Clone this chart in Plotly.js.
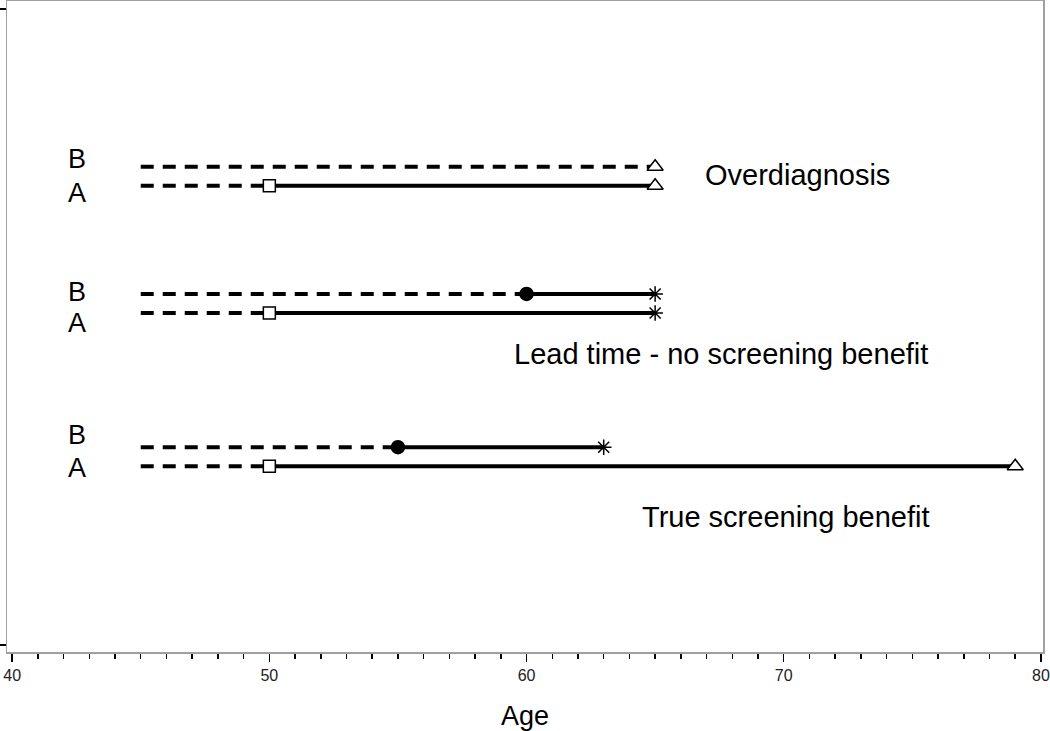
<!DOCTYPE html>
<html>
<head>
<meta charset="utf-8">
<script src="https://cdn.plot.ly/plotly-3.0.1.min.js"></script>
<style>html,body{margin:0;padding:0;background:#fff;}#chart{width:1050px;height:731px;}</style>
</head>
<body>
<div id="chart"></div>
<script>
// Rows (woman B = not screened, woman A = screened)
const rowNames   = ["Overdiagnosis B", "Overdiagnosis A", "Lead time B", "Lead time A", "True benefit B", "True benefit A"];
const rowY       = [7.52, 7.22, 5.52, 5.22, 3.11, 2.81];
const onsetAge   = [45, 45, 45, 45, 45, 45];
const diagAge    = [null, 50, 60, 50, 55, 50];
const endAge     = [65, 65, 65, 65, 63, 79];
const diagSymbol = [null, "square", "circle", "square", "circle", "square"];
const endSymbol  = ["triangle-up", "triangle-up", "asterisk-open", "asterisk-open", "asterisk-open", "triangle-up"];

const rowLabels  = ["B", "A", "B", "A", "B", "A"];
const labelY     = [7.64, 7.11, 5.55, 5.06, 3.30, 2.78];
const scenarioText = ["Overdiagnosis", "Lead time - no screening benefit", "True screening benefit"];
const scenarioX    = [70.55, 67.55, 70.08];
const scenarioY    = [7.39, 4.58, 2.01];

const FONT = "Liberation Sans, Arial, sans-serif";
const traces = [];
for (let i = 0; i < rowNames.length; i++) {
  const dashEnd = diagAge[i] === null ? endAge[i] : diagAge[i];
  traces.push({
    x: [onsetAge[i], dashEnd], y: [rowY[i], rowY[i]],
    mode: "lines", line: {color: "#000", width: 4, dash: "13px,9px"},
    hoverinfo: "skip", showlegend: false
  });
  if (diagAge[i] !== null) {
    traces.push({
      x: [diagAge[i], endAge[i]], y: [rowY[i], rowY[i]],
      mode: "lines", line: {color: "#000", width: 4},
      hoverinfo: "skip", showlegend: false
    });
  }
}
for (let i = 0; i < rowNames.length; i++) {
  if (diagAge[i] !== null) {
    const filled = diagSymbol[i] === "circle";
    traces.push({
      x: [diagAge[i]], y: [rowY[i]], mode: "markers",
      marker: {symbol: diagSymbol[i], size: filled ? 13 : 12, color: filled ? "#000" : "#fff",
               line: {color: "#000", width: 1.5}},
      showlegend: false
    });
  }
  const isTri = endSymbol[i] === "triangle-up";
  traces.push({
    x: [endAge[i]], y: [rowY[i]], mode: "markers",
    marker: {symbol: endSymbol[i], size: isTri ? 14 : 13, color: isTri ? "#fff" : "#000",
             line: {color: "#000", width: 1.5}},
    showlegend: false
  });
}

const annotations = [];
for (let i = 0; i < rowLabels.length; i++) {
  annotations.push({x: 42.53, y: labelY[i], xref: "x", yref: "y", text: rowLabels[i], showarrow: false,
    font: {family: FONT, size: 27, color: "#000"}});
}
for (let i = 0; i < scenarioText.length; i++) {
  annotations.push({x: scenarioX[i], y: scenarioY[i], xref: "x", yref: "y", text: scenarioText[i], showarrow: false,
    font: {family: FONT, size: 29, color: "#000"}});
}

const layout = {
  width: 1050, height: 731,
  margin: {l: 7, r: 7, t: 1, b: 79},
  paper_bgcolor: "#fff", plot_bgcolor: "#fff",
  showlegend: false,
  xaxis: {
    range: [39.8, 80.08], tickmode: "linear", tick0: 40, dtick: 10,
    ticks: "outside", ticklen: 8, tickwidth: 1.5, tickcolor: "#000",
    minor: {tickmode: "linear", tick0: 40, dtick: 1, ticks: "outside", ticklen: 5, tickwidth: 1.5, tickcolor: "#000", showgrid: false},
    showgrid: false, zeroline: false,
    showline: true, linecolor: "#a0a0a0", linewidth: 1.5, mirror: true,
    tickfont: {family: FONT, size: 16, color: "#222"},
    title: {text: "Age", font: {family: FONT, size: 27, color: "#000"}, standoff: 25}
  },
  yaxis: {
    range: [-0.11, 10.126], tickmode: "array", tickvals: [0, 10], ticktext: ["", ""],
    ticks: "outside", ticklen: 6, tickwidth: 1.5, tickcolor: "#000",
    showgrid: false, zeroline: false,
    showline: true, linecolor: "#a0a0a0", linewidth: 1.5, mirror: true,
    showticklabels: false
  },
  annotations: annotations
};

Plotly.newPlot("chart", traces, layout, {displayModeBar: false, staticPlot: true});
</script>
</body>
</html>
